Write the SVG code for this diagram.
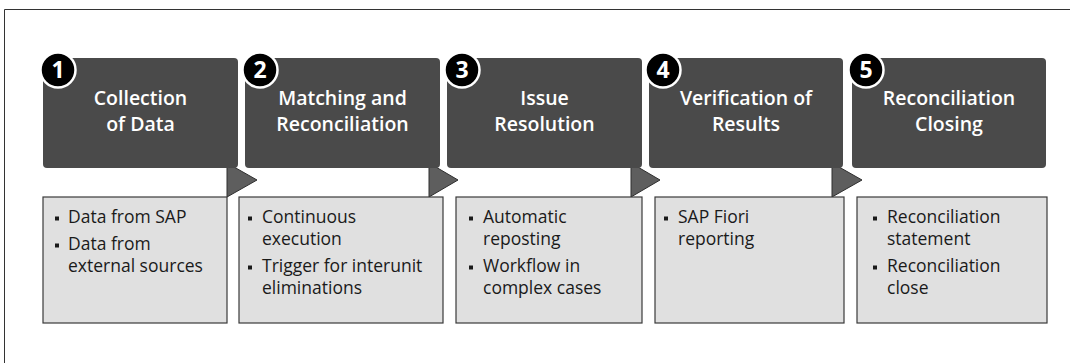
<svg xmlns="http://www.w3.org/2000/svg" width="1070" height="363" viewBox="0 0 1070 363">
  <style>
    .dark { fill: #4a4a4a; }
    .light { fill: #e0e0e0; stroke: #3a3a3a; stroke-width: 1.2; }
    .arrow { fill: #5e5e5e; stroke: #2e2e2e; stroke-width: 1; stroke-linejoin: miter; }
    .badge { fill: #000; stroke: #fff; stroke-width: 2.5; }
    .num { font-family: "Open Sans", "Liberation Sans", sans-serif; font-weight: 700; font-size: 23px; fill: #fff; text-anchor: middle; }
    .title { font-family: "Open Sans", "Liberation Sans", sans-serif; font-weight: 600; font-size: 19.5px; fill: #fff; text-anchor: middle; }
    .item { font-family: "Open Sans", "Liberation Sans", sans-serif; font-size: 17.5px; fill: #1a1a1a; }
    .bul { fill: #1a1a1a; }
  </style>
  <path d="M4.5 363 V9.5 H1070" fill="none" stroke="#333" stroke-width="1"/>

  <g id="connectors">
    <polygon class="arrow" points="227,163 257,180 227,197"/>
    <polygon class="arrow" points="429,163 458,180 429,197"/>
    <polygon class="arrow" points="631,163 660,180 631,197"/>
    <polygon class="arrow" points="832,163 862,180 832,197"/>
  </g>

  <g id="step1">
    <rect class="dark" x="43" y="58" width="195" height="110" rx="4"/>
    <circle class="badge" cx="58" cy="70" r="17.5"/>
    <text class="num" x="58" y="78">1</text>
    <text class="title" x="140.5" y="105">Collection</text>
    <text class="title" x="140.5" y="131">of Data</text>
  </g>
  <g id="detail1">
    <rect class="light" x="43" y="197" width="184" height="126"/>
    <rect class="bul" x="55" y="216.5" width="4" height="4"/>
    <text class="item" x="68" y="223">Data from SAP</text>
    <rect class="bul" x="55" y="243.5" width="4" height="4"/>
    <text class="item" x="68" y="250">Data from</text>
    <text class="item" x="68" y="272">external sources</text>
  </g>

  <g id="step2">
    <rect class="dark" x="245" y="58" width="195" height="110" rx="4"/>
    <circle class="badge" cx="260" cy="70" r="17.5"/>
    <text class="num" x="260" y="78">2</text>
    <text class="title" x="342.5" y="105">Matching and</text>
    <text class="title" x="342.5" y="131">Reconciliation</text>
  </g>
  <g id="detail2">
    <rect class="light" x="239" y="197" width="204" height="126"/>
    <rect class="bul" x="248" y="216.5" width="4" height="4"/>
    <text class="item" x="262" y="223">Continuous</text>
    <text class="item" x="262" y="245">execution</text>
    <rect class="bul" x="248" y="265.5" width="4" height="4"/>
    <text class="item" x="262" y="272">Trigger for interunit</text>
    <text class="item" x="262" y="294">eliminations</text>
  </g>

  <g id="step3">
    <rect class="dark" x="447" y="58" width="195" height="110" rx="4"/>
    <circle class="badge" cx="462" cy="70" r="17.5"/>
    <text class="num" x="462" y="78">3</text>
    <text class="title" x="544.5" y="105">Issue</text>
    <text class="title" x="544.5" y="131">Resolution</text>
  </g>
  <g id="detail3">
    <rect class="light" x="456" y="197" width="186" height="126"/>
    <rect class="bul" x="469" y="216.5" width="4" height="4"/>
    <text class="item" x="483" y="223">Automatic</text>
    <text class="item" x="483" y="245">reposting</text>
    <rect class="bul" x="469" y="265.5" width="4" height="4"/>
    <text class="item" x="483" y="272">Workflow in</text>
    <text class="item" x="483" y="294">complex cases</text>
  </g>

  <g id="step4">
    <rect class="dark" x="649" y="58" width="194" height="110" rx="4"/>
    <circle class="badge" cx="663" cy="70" r="17.5"/>
    <text class="num" x="663" y="78">4</text>
    <text class="title" x="746" y="105">Verification of</text>
    <text class="title" x="746" y="131">Results</text>
  </g>
  <g id="detail4">
    <rect class="light" x="655" y="197" width="189" height="126"/>
    <rect class="bul" x="664" y="216.5" width="4" height="4"/>
    <text class="item" x="678" y="223">SAP Fiori</text>
    <text class="item" x="678" y="245">reporting</text>
  </g>

  <g id="step5">
    <rect class="dark" x="852" y="58" width="194" height="110" rx="4"/>
    <circle class="badge" cx="866" cy="70" r="17.5"/>
    <text class="num" x="866" y="78">5</text>
    <text class="title" x="949" y="105">Reconciliation</text>
    <text class="title" x="949" y="131">Closing</text>
  </g>
  <g id="detail5">
    <rect class="light" x="857" y="197" width="190" height="126"/>
    <rect class="bul" x="873" y="216.5" width="4" height="4"/>
    <text class="item" x="887" y="223">Reconciliation</text>
    <text class="item" x="887" y="245">statement</text>
    <rect class="bul" x="873" y="265.5" width="4" height="4"/>
    <text class="item" x="887" y="272">Reconciliation</text>
    <text class="item" x="887" y="294">close</text>
  </g>
</svg>
